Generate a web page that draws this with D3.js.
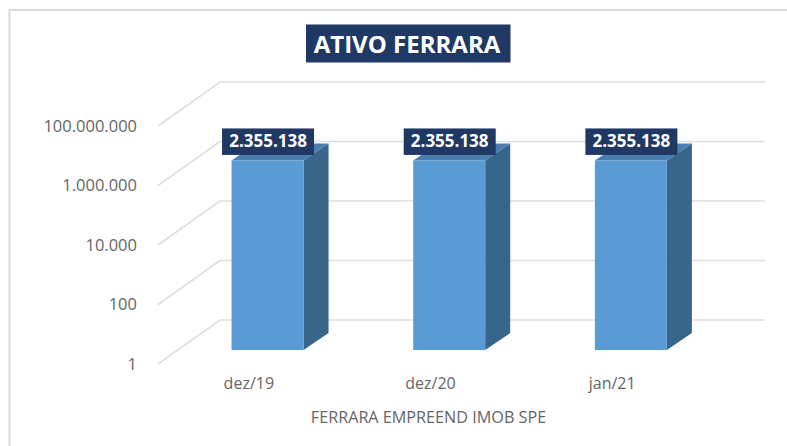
<!DOCTYPE html>
<html><head><meta charset="utf-8">
<script src="https://cdn.jsdelivr.net/npm/d3@7"></script>
<style>
html,body{margin:0;padding:0;background:#fff}
svg{display:block}
text{font-family:"Open Sans",sans-serif}
</style></head><body>
<svg id="c" width="787" height="446"></svg>
<script>
const categories = ["dez/19","dez/20","jan/21"];
const values = [2355138,2355138,2355138];
const yTicks = [1,100,10000,1000000,100000000];
const titleText = "ATIVO FERRARA";
const axisTitle = "FERRARA EMPREEND IMOB SPE";

const fmt = v => d3.format(",")(v).replace(/,/g,".");
const svg = d3.select("#c");

// frame
svg.append("path").attr("d","M787 10H9.5V446").attr("fill","none").attr("stroke","#d9d9d9").attr("stroke-width",2);

const depth = {dx:62, dy:-44};
const y = d3.scaleLog().domain([1,1e8]).range([364,126]);
const x = d3.scaleBand().domain(categories).range([158,703]);

// gridlines
const grid = svg.append("g").attr("fill","none").attr("stroke","#dedede").attr("stroke-width",1.6);
grid.selectAll("path").data(yTicks).join("path")
  .attr("d",t=>`M${x.range()[0]} ${y(t)}L${x.range()[0]+depth.dx} ${y(t)+depth.dy}L${x.range()[1]+depth.dx} ${y(t)+depth.dy}`);

// y axis
const yAxis = d3.axisLeft(y).tickValues(yTicks).tickFormat(fmt).tickSize(0).tickPadding(21);
const gy = svg.append("g").attr("transform",`translate(158,0)`).call(yAxis);
gy.select(".domain").remove();
gy.selectAll("text").attr("font-size",16.5).attr("fill","#666").attr("dy","0.32em").style("font-family",'"Open Sans",sans-serif');

// x axis
const xAxis = d3.axisBottom(x).tickSize(0).tickPadding(14);
const gx = svg.append("g").attr("transform",`translate(0,364)`).call(xAxis);
gx.select(".domain").remove();
gx.selectAll("text").attr("font-size",16).attr("fill","#666").style("font-family",'"Open Sans",sans-serif');

svg.append("text").attr("x",428.5).attr("y",423).attr("text-anchor","middle")
  .attr("font-size",16.2).attr("fill","#666").text(axisTitle);

// bars
const barW=72, f=0.318, bd={dx:25,dy:-17};
const bars = svg.append("g").selectAll("g").data(categories.map((c,i)=>({c,v:values[i]}))).join("g");
const bx = d=>x(d.c)+x.bandwidth()/2+f*depth.dx-barW/2-1;
const by0 = y(1)+f*depth.dy;
const byT = d=>y(d.v)+f*depth.dy;
bars.append("path").attr("fill","#38658a")
  .attr("d",d=>`M${bx(d)+barW} ${byT(d)}l${bd.dx} ${bd.dy}V${by0+bd.dy}l${-bd.dx} ${-bd.dy}Z`);
bars.append("path").attr("fill","#4a7eaf")
  .attr("d",d=>`M${bx(d)} ${byT(d)}l${bd.dx} ${bd.dy}h${barW}l${-bd.dx} ${-bd.dy}Z`);
bars.append("rect").attr("fill","#5b9bd5")
  .attr("x",bx).attr("y",byT).attr("width",barW).attr("height",d=>by0-byT(d));

// value labels
const cx = d=>bx(d)+barW/2+0.5;
bars.append("rect").attr("fill","#1f3864")
  .attr("x",d=>cx(d)-46).attr("y",d=>byT(d)-32).attr("width",92).attr("height",26.5);
bars.append("text").attr("x",cx).attr("y",d=>byT(d)-13).attr("text-anchor","middle")
  .attr("font-size",17).attr("font-weight",700).attr("fill","#fff").text(d=>fmt(d.v));

// title
svg.append("rect").attr("x",306).attr("y",24.5).attr("width",204.5).attr("height",38).attr("fill","#1f3864");
svg.append("text").attr("x",407).attr("y",53).attr("text-anchor","middle")
  .attr("font-size",24).attr("font-weight",700).attr("fill","#fff").text(titleText);
</script></body></html>
